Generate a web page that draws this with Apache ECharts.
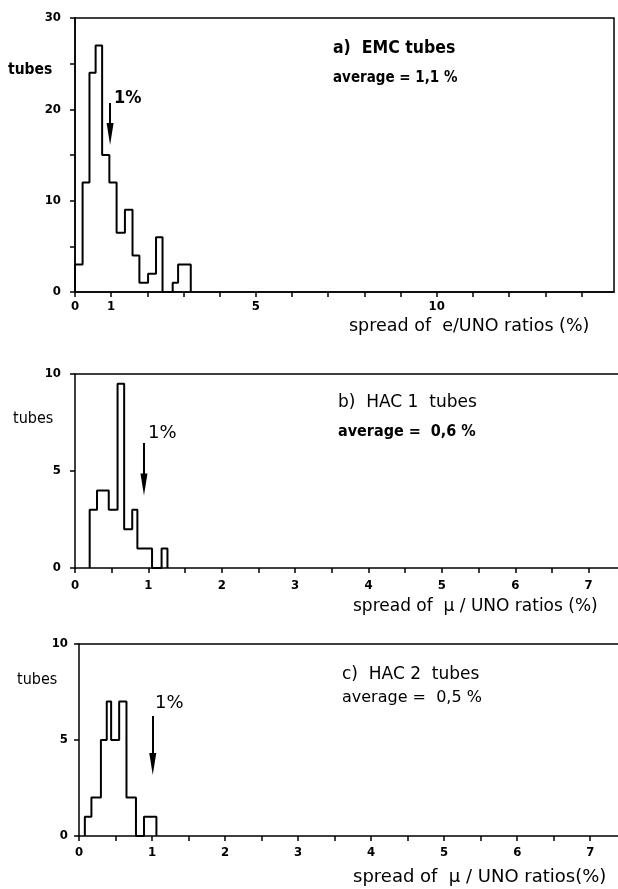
<!DOCTYPE html>
<html>
<head>
<meta charset="utf-8">
<script src="https://cdn.jsdelivr.net/npm/echarts@6/dist/echarts.min.js"></script>
<style>
html,body{margin:0;padding:0;background:#fff;}
#c{width:618px;height:889px;}
</style>
</head>
<body>
<div id="c"></div>
<script>
// ---- data ----
// panel a: EMC tubes (bin edges in % and counts of tubes)
const edgesA = [0, 0.21, 0.40, 0.57, 0.75, 0.95, 1.15, 1.38, 1.59, 1.78, 2.02, 2.24, 2.42, 2.70, 2.85, 3.20];
const countsA = [3, 12, 24, 27, 15, 12, 6.5, 9, 4, 1, 2, 6, 0, 1, 3];
// panel b: HAC1 tubes
const edgesB = [0.20, 0.30, 0.46, 0.58, 0.67, 0.78, 0.85, 1.05, 1.18, 1.26];
const countsB = [3, 4, 3, 9.5, 2, 3, 1, 0, 1];
// panel c: HAC2 tubes
const edgesC = [0.08, 0.17, 0.30, 0.38, 0.44, 0.55, 0.65, 0.78, 0.89, 1.06];
const countsC = [1, 2, 5, 7, 5, 7, 2, 0, 1];
// "1%" arrows: x value, start y, arrow-head centre y
const arrowA = [0.97, 20.7, 17.3];
const arrowB = [0.94, 6.44, 4.3];
const arrowC = [1.01, 6.25, 3.75];
// tick labels shown
const xLabelsA = [0, 1, 5, 10];
const yLabelsA = [0, 10, 20, 30];
const xLabelsBC = [0, 1, 2, 3, 4, 5, 6, 7];
const yLabelsBC = [0, 5, 10];

const FONT = '"DejaVu Sans Condensed", "Liberation Sans Narrow", "DejaVu Sans", sans-serif';
const FONTW = '"DejaVu Sans", "Liberation Sans", sans-serif';

function steps(edges, counts) {
  const pts = [[edges[0], 0]];
  for (let i = 0; i < counts.length; i++) {
    pts.push([edges[i], counts[i]]);
    pts.push([edges[i + 1], counts[i]]);
  }
  pts.push([edges[edges.length - 1], 0]);
  return pts;
}

function xAxisCfg(grid, max, interval, shown, margin) {
  return {
    type: 'value', gridIndex: grid, min: 0, max: max, interval: interval,
    axisLine: {show: true, onZero: false, lineStyle: {color: '#000', width: 1.5}},
    axisTick: {show: true, length: 5, lineStyle: {color: '#000', width: 1.5}},
    splitLine: {show: false},
    axisLabel: {
      margin: margin, color: '#000', fontFamily: FONT, fontSize: 13, fontWeight: 'bold',
      showMaxLabel: false,
      formatter: v => shown.some(s => Math.abs(s - v) < 1e-6) ? String(Math.round(v)) : ''
    }
  };
}
function topAxis(grid, max) {
  return {
    type: 'value', gridIndex: grid, min: 0, max: max, position: 'top',
    axisLine: {show: true, onZero: false, lineStyle: {color: '#000', width: 1.5}},
    axisTick: {show: false}, axisLabel: {show: false}, splitLine: {show: false}
  };
}
function yAxisCfg(grid, max, interval, shown, margin) {
  return {
    type: 'value', gridIndex: grid, min: 0, max: max, interval: interval,
    axisLine: {show: true, onZero: false, lineStyle: {color: '#000', width: 1.5}},
    axisTick: {show: true, length: 5, lineStyle: {color: '#000', width: 1.5}},
    splitLine: {show: false},
    axisLabel: {
      margin: margin, color: '#000', fontFamily: FONT, fontSize: 13, fontWeight: 'bold',
      formatter: v => shown.some(s => Math.abs(s - v) < 1e-6) ? String(v) : ''
    }
  };
}
function histSeries(xi, yi, edges, counts, arrow) {
  return {
    type: 'line', xAxisIndex: xi, yAxisIndex: yi, data: steps(edges, counts),
    showSymbol: false, symbol: 'none', animation: false, silent: true,
    lineStyle: {color: '#000', width: 2},
    markLine: {
      silent: true, animation: false,
      symbol: ['none', 'triangle'], symbolSize: [7, 22],
      label: {show: false},
      lineStyle: {color: '#000', width: 2, type: 'solid'},
      itemStyle: {color: '#000'},
      data: [[{coord: [arrow[0], arrow[1]]}, {coord: [arrow[0], arrow[2]]}]]
    }
  };
}
function txt(x, y, s, size, weight, fam) {
  return {
    type: 'text', x: x, y: y, silent: true,
    style: {text: s, fill: '#000', font: (weight || 'normal') + ' ' + size + 'px ' + (fam || FONT), verticalAlign: 'middle'}
  };
}

const chart = echarts.init(document.getElementById('c'), null, {renderer: 'canvas'});
chart.setOption({
  animation: false,
  backgroundColor: '#fff',
  grid: [
    {left: 75, top: 18, width: 539, height: 274, show: true, borderColor: '#000', borderWidth: 1.5},
    {left: 75, top: 374, width: 543, height: 194},
    {left: 79, top: 644, width: 539, height: 192}
  ],
  xAxis: [
    xAxisCfg(0, 14.9, 1, xLabelsA, 8),
    xAxisCfg(1, 7.4, 0.5, xLabelsBC, 11),
    xAxisCfg(2, 7.38, 0.5, xLabelsBC, 10),
    topAxis(1, 7.4),
    topAxis(2, 7.38)
  ],
  yAxis: [
    yAxisCfg(0, 30, 5, yLabelsA, 14),
    yAxisCfg(1, 10, 5, yLabelsBC, 14),
    yAxisCfg(2, 10, 5, yLabelsBC, 11)
  ],
  series: [
    histSeries(0, 0, edgesA, countsA, arrowA),
    histSeries(1, 1, edgesB, countsB, arrowB),
    histSeries(2, 2, edgesC, countsC, arrowC)
  ],
  graphic: [
    txt(8, 70, 'tubes', 15.5, 'bold'),
    txt(114, 98, '1%', 18, 'bold'),
    txt(333, 48, 'a)  EMC tubes', 17.5, 'bold'),
    txt(333, 78, 'average = 1,1 %', 15, 'bold'),
    txt(349, 326, 'spread of  e/UNO ratios (%)', 17.5, 'normal', FONTW),

    txt(13, 419, 'tubes', 16, 'normal'),
    txt(148, 433, '1%', 18, 'normal', FONTW),
    txt(338, 403, 'b)  HAC 1  tubes', 17, 'normal', FONTW),
    txt(338, 432, 'average =  0,6 %', 16, 'bold'),
    txt(353, 607, 'spread of  µ / UNO ratios (%)', 17, 'normal', FONTW),

    txt(17, 680, 'tubes', 16, 'normal'),
    txt(155, 703, '1%', 18, 'normal', FONTW),
    txt(342, 675, 'c)  HAC 2  tubes', 17, 'normal', FONTW),
    txt(342, 698, 'average =  0,5 %', 16, 'normal', FONTW),
    txt(353, 877, 'spread of  µ / UNO ratios(%)', 18, 'normal', FONTW)
  ]
});
</script>
</body>
</html>
